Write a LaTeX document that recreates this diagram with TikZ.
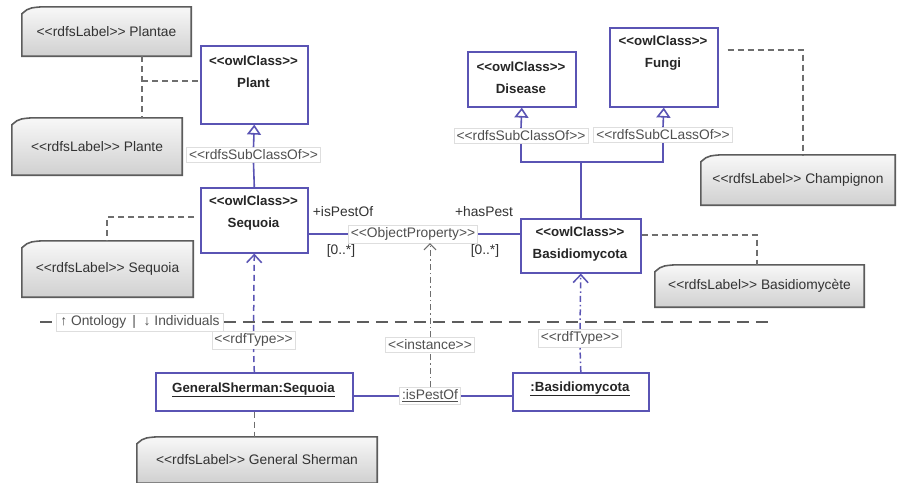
\documentclass[tikz,border=0pt]{standalone}
\usepackage{fontspec}
\setmainfont{Liberation Sans}[Ligatures=TeXOff]
\usetikzlibrary{arrows.meta,backgrounds}
\definecolor{cblue}{RGB}{90,84,180}
\definecolor{ngray}{RGB}{92,92,92}
\definecolor{ntop}{RGB}{248,248,248}
\definecolor{nbot}{RGB}{208,208,208}
\definecolor{tgray}{RGB}{50,50,50}
\definecolor{lgray}{RGB}{80,80,80}
\definecolor{lbox}{RGB}{222,222,222}
\definecolor{dgray}{RGB}{110,110,110}
\tikzset{
  every node/.style={font=\fontsize{13.8}{16}\selectfont},
  classbox/.style={draw=cblue, line width=1.6pt, fill=white, inner sep=0pt, anchor=north west},
  classtext/.style={font=\fontsize{13.3}{22}\selectfont\bfseries, text=black!85, inner sep=0pt, align=center},
  note/.style={inner sep=0pt, text=tgray},
  notefill/.style={draw=ngray, line width=1.6pt, top color=ntop, bottom color=nbot},
  lbl/.style={draw=lbox, fill=white, text=lgray, inner sep=2.5pt, line width=0.6pt},
  role/.style={text=tgray, inner sep=1pt},
  notelink/.style={draw=dgray, line width=1.3pt, dash pattern=on 6pt off 4pt},
  assoc/.style={draw=cblue, line width=1.6pt},
  gen/.style={draw=cblue, line width=1.6pt, -{Triangle[width=14pt,length=10pt,fill=white]}},
  rdft/.style={draw=cblue, line width=1.5pt, dash pattern=on 6pt off 4pt},
  rdftb/.style={draw=cblue, line width=1.5pt, dash pattern=on 6pt off 3pt on 1.5pt off 3pt},
  barb/.style={-{Straight Barb[width=15pt,length=8pt]}},
  inst/.style={draw=dgray, line width=1pt, dash pattern=on 6pt off 3pt on 1.5pt off 3pt},
  sepline/.style={draw=dgray!85!black, line width=1.5pt, dash pattern=on 12pt off 7pt},
}
\newcommand\notebg[1]{\path[notefill] ([yshift=-7pt]#1.north west) -- ([xshift=5pt,yshift=-3pt]#1.north west) .. controls ([xshift=9pt,yshift=-1pt]#1.north west) .. ([xshift=20pt]#1.north west) -- (#1.north east) -- (#1.south east) -- (#1.south west) -- cycle;}
\begin{document}
\begin{tikzpicture}[x=1pt,y=-1pt]
\useasboundingbox (0,0) rectangle (899,482);
% notes
\node[note, minimum width=169pt, minimum height=49pt] (plantae) at (106.5,31.5) {<<rdfsLabel>> Plantae};
\node[note, minimum width=170pt, minimum height=57pt] (plante) at (97,146.5) {<<rdfsLabel>> Plante};
\node[note, minimum width=171pt, minimum height=56pt] (seqnote) at (107.5,269) {<<rdfsLabel>> Sequoia};
\node[note, minimum width=194pt, minimum height=50pt] (champ) at (798,180) {<<rdfsLabel>> Champignon};
\node[note, minimum width=209pt, minimum height=42pt] (basnote) at (759.5,286) {<<rdfsLabel>> Basidiomycète};
\node[note, minimum width=240pt, minimum height=46pt] (gsnote) at (257,460) {<<rdfsLabel>> General Sherman};
\begin{scope}[on background layer]
\fill[white] (0,0) rectangle (899,482);
\notebg{plantae}\notebg{plante}\notebg{seqnote}\notebg{champ}\notebg{basnote}\notebg{gsnote}
\end{scope}
% classes
\node[classbox, minimum width=107pt, minimum height=78pt] (plant) at (200,45) {};
\node[classtext] (plantT) at (253.5,72) {<<owlClass>>\\Plant};
\node[classbox, minimum width=107pt, minimum height=65pt] (seq) at (200,187) {};
\node[classtext] (seqT) at (253.5,213) {<<owlClass>>\\Sequoia};
\node[classbox, minimum width=108pt, minimum height=55pt] (disease) at (467,51) {};
\node[classtext] (diseaseT) at (521,77.5) {<<owlClass>>\\Disease};
\node[classbox, minimum width=108pt, minimum height=79pt] (fungi) at (609,27) {};
\node[classtext] (fungiT) at (663,53.5) {<<owlClass>>\\Fungi};
\node[classbox, minimum width=120pt, minimum height=54pt] (basid) at (520,218) {};
\node[classtext] (basidT) at (580,244) {<<owlClass>>\\Basidiomycota};
\node[classbox, minimum width=197pt, minimum height=38pt] (gs) at (155,372) {};
\node[classtext] (gsT) at (253.5,390) {\underline{GeneralSherman:Sequoia}};
\node[classbox, minimum width=136pt, minimum height=38pt] (bobj) at (512,372) {};
\node[classtext] (bobjT) at (580,389) {\underline{:Basidiomycota}};
% labels
\node[lbl] (sub1) at (253.5,155) {<<rdfsSubClassOf>>};
\node[lbl] (sub2) at (521,136) {<<rdfsSubClassOf>>};
\node[lbl] (sub3) at (663,135) {<<rdfsSubCLassOf>>};
\node[lbl] (op) at (413,234) {<<ObjectProperty>>};
\node[lbl] (rt1) at (253.5,340) {<<rdfType>>};
\node[lbl] (rt2) at (580,338) {<<rdfType>>};
\node[lbl] (instl) at (430,345) {<<instance>>};
\node[lbl] (ip) at (430,396) {\underline{:isPestOf}};
\node[lbl, inner xsep=4pt] (onto) at (140,322) {↑ Ontology \,|\ \ ↓ Individuals};
\node[role] (r1) at (343,212) {+isPestOf};
\node[role] (m1) at (341,251) {[0..*]};
\node[role] (r2) at (484,212) {+hasPest};
\node[role] (m2) at (485,251) {[0..*]};
% separator
\coordinate (sepL) at (40,322);
\coordinate (sepR) at (770,322);
\draw[sepline] (sepL) -- (onto.west);
\draw[sepline] (onto.east) -- (sepR);
% generalizations
\draw[gen] (sub1.north) -- (plant.south);
\draw[assoc] (seq.north) -- (sub1.south);
\coordinate (hub) at (basid.north |- 0,162);
\draw[assoc] (basid.north) -- (hub) -| (sub3.south);
\draw[assoc] (hub) -| (sub2.south);
\draw[gen] (sub2.north) -- (disease.south);
\draw[gen] (sub3.north) -- (fungi.south);
% association
\draw[assoc] (op.west -| seq.east) -- (op.west);
\draw[assoc] (op.east) -- (op.east -| basid.west);
\draw[assoc] (ip.west -| gs.east) -- (ip.west);
\draw[assoc] (ip.east) -- (ip.east -| bobj.west);
% rdfType
\draw[rdft] (gs.north) -- (rt1.south);
\draw[rdft, barb] (rt1.north) -- (seq.south);
\draw[rdftb] (bobj.north) -- (rt2.south);
\draw[rdftb, barb] (rt2.north) -- (basid.south);
% instance
\draw[inst] (ip.north) -- (instl.south);
\draw[inst, -{Straight Barb[width=12pt,length=6pt]}] (instl.north) -- (instl.north |- op.south);
% note links
\coordinate (pj) at (142,81);
\draw[notelink] (pj |- plantae.south) -- (pj |- plante.north);
\draw[notelink] (pj) -- (pj -| plant.west);
\coordinate (sj) at (107,217);
\draw[notelink, shorten <=6pt] (sj -| seq.west) -- (sj) -- (sj |- seqnote.north);
\coordinate (fj) at (803,50);
\draw[notelink, shorten <=9pt] (fj -| fungi.east) -- (fj) -- (fj |- champ.north);
\coordinate (bj) at (757,235);
\draw[notelink] (bj -| basid.east) -- (bj) -- (bj |- basnote.north);
\draw[notelink] (gs.south) -- (gs.south |- gsnote.north);
\end{tikzpicture}
\end{document}
